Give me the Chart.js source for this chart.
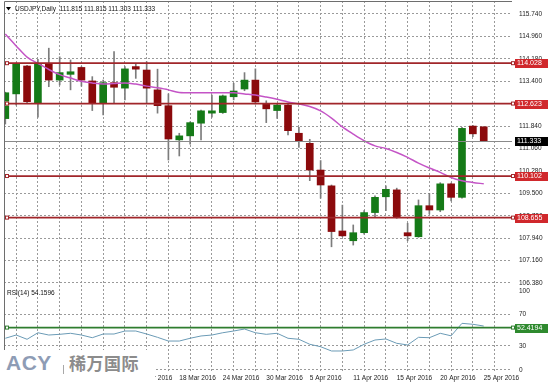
<!DOCTYPE html>
<html><head><meta charset="utf-8">
<script src="https://cdn.jsdelivr.net/npm/chart.js@4.4.1/dist/chart.umd.min.js"></script>
<style>
html,body{margin:0;padding:0;background:#fff;}
#wrap{position:relative;width:550px;height:387px;overflow:hidden;background:#fff;}
#c{position:absolute;left:0;top:0;}
#logo{position:absolute;left:0;top:350px;width:155px;height:37px;background:#fff;}
#acy{position:absolute;left:6px;top:2px;font:bold 21px "Liberation Sans",Arial,sans-serif;letter-spacing:0.5px;color:#8e9cb5;line-height:21px;}
#sep{position:absolute;left:63px;top:15px;width:1px;height:9px;background:#a8a8a8;}
#cn{position:absolute;left:69px;top:4px;font:bold 17px "Noto Sans CJK SC",sans-serif;color:#8c8c8c;line-height:17px;letter-spacing:0.5px;}
</style></head>
<body><div id="wrap"><canvas id="c" width="550" height="387"></canvas>
<div id="logo"><div id="acy">ACY</div><div id="sep"></div><div id="cn">稀万国际</div></div></div>
<script>
// ---- data ----
const dates = ['25 Feb 2016','26 Feb 2016','29 Feb 2016','1 Mar 2016','2 Mar 2016','3 Mar 2016','4 Mar 2016','7 Mar 2016','8 Mar 2016','9 Mar 2016','10 Mar 2016','11 Mar 2016','14 Mar 2016','15 Mar 2016','16 Mar 2016','17 Mar 2016','18 Mar 2016','21 Mar 2016','22 Mar 2016','23 Mar 2016','24 Mar 2016','25 Mar 2016','28 Mar 2016','29 Mar 2016','30 Mar 2016','31 Mar 2016','1 Apr 2016','4 Apr 2016','5 Apr 2016','6 Apr 2016','7 Apr 2016','8 Apr 2016','11 Apr 2016','12 Apr 2016','13 Apr 2016','14 Apr 2016','15 Apr 2016','17 Apr 2016','18 Apr 2016','19 Apr 2016','20 Apr 2016','21 Apr 2016','22 Apr 2016','24 Apr 2016','25 Apr 2016'];
const open  = [112.10,112.96,113.93,112.63,114.00,113.44,113.64,113.88,113.41,112.63,113.35,113.16,113.91,113.79,113.10,112.55,111.36,111.50,111.94,112.29,112.31,112.86,113.13,113.44,112.63,112.38,112.57,111.59,111.24,110.31,109.76,108.19,107.85,108.13,108.83,109.38,109.62,108.13,107.99,109.07,108.92,109.83,109.36,111.84,111.815];
const high  = [113.02,114.03,113.95,114.16,114.55,114.25,114.14,113.91,113.56,113.44,114.43,113.91,114.02,114.08,113.82,112.96,111.59,111.99,112.40,112.92,112.92,113.33,113.70,113.83,112.72,112.60,112.60,111.80,111.38,110.64,109.79,109.09,108.40,108.90,109.41,109.76,109.68,108.46,109.27,109.50,109.87,109.86,111.80,111.87,111.815];
const low   = [111.91,112.57,112.64,112.15,113.21,113.27,113.10,113.23,112.38,112.23,112.63,112.75,113.50,112.65,112.29,110.66,110.80,111.21,111.36,112.15,112.28,112.75,113.07,112.61,111.96,112.11,111.53,111.10,109.94,109.33,107.64,107.99,107.70,108.08,108.69,108.90,108.63,107.85,107.97,108.78,108.86,109.24,109.33,111.47,111.303];
const close = [113.00,113.99,112.69,114.02,113.44,113.70,113.73,113.44,112.63,113.35,113.19,113.83,113.82,113.16,112.55,111.39,111.50,111.96,112.37,112.37,112.89,113.06,113.44,112.68,112.44,112.57,111.68,111.32,110.31,109.79,108.17,108.02,108.13,108.83,109.36,109.64,108.67,108.02,109.07,108.92,109.83,109.36,111.76,111.57,111.333];
const ma    = [115.04,114.63,114.24,114.02,113.81,113.63,113.51,113.40,113.34,113.30,113.32,113.34,113.30,113.23,113.17,113.10,113.01,113.00,113.00,113.00,113.00,113.00,112.96,112.92,112.85,112.77,112.68,112.61,112.52,112.37,112.12,111.81,111.56,111.33,111.15,111.06,110.92,110.75,110.55,110.38,110.23,110.05,109.94,109.88,109.83];
const rsi   = [38.9,43.0,37.6,45.9,43.0,43.9,45.2,43.0,39.6,44.3,44.3,48.1,48.1,44.3,40.1,35.4,35.4,38.9,41.8,43.0,45.9,48.1,50.6,45.9,43.9,45.2,38.9,37.6,31.3,28.2,22.8,22.8,24.1,31.3,36.7,38.0,32.5,30.4,40.1,39.6,45.2,42.0,57.8,56.6,54.4];
const levels = [114.028, 112.623, 110.102, 108.655];
const rsiLevel = 52.4194;
const rsiValueText = '54.1596';
const priceTicks = [115.74,114.96,114.18,113.40,112.62,111.84,111.06,110.28,109.50,108.72,107.94,107.16,106.38];
const rsiTicks = [100, 70, 30, 0];
const xGridIdx = [2,4,6,8,10,12,14,16,18,20,22,24,26,28,30,32,34,36,38,40,42,44,46];
const title = 'USDJPY,Daily  111.815 111.815 111.303 111.333';

// ---- chart ----
const FONT = '"Liberation Sans", Arial, sans-serif';
const idx = open.map((_, i) => i);
const upC = '#157a17', dnC = '#8b0a0c';

const overlay = {
  id: 'overlay',
  beforeDatasetsDraw(chart) {
    const {ctx, chartArea: a, scales: {yr}} = chart;
    ctx.save();
    ctx.strokeStyle = '#9a9a9a'; ctx.lineWidth = 1; ctx.setLineDash([2, 2]);
    rsiTicks.filter(v => v < 100).forEach(v => {
      const y = Math.round(yr.getPixelForValue(v)) + 0.5;
      ctx.beginPath(); ctx.moveTo(a.left, y); ctx.lineTo(a.right, y); ctx.stroke();
    });
    ctx.restore();
  },
  afterDatasetsDraw(chart) {
    const {ctx, chartArea: a, scales: {y, yr}} = chart;
    ctx.save();
    const yc = Math.round(y.getPixelForValue(close[close.length - 1])) + 0.5;
    ctx.strokeStyle = '#8a8a8a'; ctx.lineWidth = 1;
    ctx.beginPath(); ctx.moveTo(a.left, yc); ctx.lineTo(a.right, yc); ctx.stroke();
    const hline = (py, col) => {
      ctx.strokeStyle = col; ctx.lineWidth = 1.7;
      ctx.beginPath(); ctx.moveTo(a.left, py); ctx.lineTo(a.right, py); ctx.stroke();
      ctx.lineWidth = 1;
      ctx.fillStyle = '#fff';
      [a.left + 1, a.right - 1].forEach(x0 => {
        ctx.fillRect(x0, py - 2, 4, 4);
        ctx.strokeRect(x0 + 0.5, py - 1.5, 3, 3);
      });
    };
    levels.forEach(v => hline(y.getPixelForValue(v), '#a1262a'));
    hline(yr.getPixelForValue(rsiLevel), '#2e7d2e');
    ctx.strokeStyle = '#6e6e6e'; ctx.lineWidth = 1;
    ctx.beginPath(); ctx.moveTo(a.left + 0.5, a.bottom); ctx.lineTo(a.left + 0.5, a.top + 0.5); ctx.lineTo(a.right, a.top + 0.5); ctx.stroke();
    ctx.restore();
  },
  afterDraw(chart) {
    const {ctx, chartArea: a, scales: {y, yr}} = chart;
    ctx.save();
    ctx.textBaseline = 'middle';
    ctx.font = '6.5px ' + FONT; ctx.fillStyle = '#222'; ctx.textAlign = 'left';
    rsiTicks.forEach(v => ctx.fillText(String(v), a.right + 7, yr.getPixelForValue(v) + 1));
    const box = (py, txt, bg) => {
      ctx.fillStyle = bg; ctx.fillRect(a.right + 3, Math.round(py) - 4, 33, 9);
      ctx.fillStyle = '#fff'; ctx.font = '7px ' + FONT; ctx.textAlign = 'left';
      ctx.fillText(txt, a.right + 5, Math.round(py) + 0.5);
    };
    levels.forEach(v => box(y.getPixelForValue(v), v.toFixed(3), '#d0282c'));
    box(y.getPixelForValue(close[close.length - 1]), close[close.length - 1].toFixed(3), '#000');
    box(yr.getPixelForValue(rsiLevel), rsiLevel.toFixed(4), '#2f8a2f');
    ctx.fillStyle = '#000';
    ctx.beginPath(); ctx.moveTo(6, 7); ctx.lineTo(11, 7); ctx.lineTo(8.5, 10.5); ctx.closePath(); ctx.fill();
    ctx.font = '6.5px ' + FONT; ctx.fillStyle = '#111';
    ctx.fillText(title, 15, 9);
    ctx.fillText('RSI(14) ' + rsiValueText, 7, 293);
    ctx.restore();
  }
};

new Chart(document.getElementById('c'), {
  type: 'bar',
  data: {
    datasets: [
      {type: 'line', data: idx.map(i => ({x: i, y: ma[i]})), borderColor: '#c454c6', borderWidth: 1.5,
       pointRadius: 0, cubicInterpolationMode: 'monotone', yAxisID: 'y', order: 0},
      {type: 'line', data: idx.map(i => ({x: i, y: rsi[i]})), borderColor: '#6b9bb6', borderWidth: 1,
       pointRadius: 0, yAxisID: 'yr', order: 0},
      {type: 'bar', data: idx.map(i => ({x: i, y: [open[i], close[i]]})),
       backgroundColor: idx.map(i => close[i] >= open[i] ? upC : dnC), borderWidth: 0,
       barThickness: 7, minBarLength: 1, grouped: false, yAxisID: 'y', order: 1},
      {type: 'bar', data: idx.map(i => ({x: i, y: [low[i], high[i]]})),
       backgroundColor: '#7c7c7c', borderWidth: 0, barThickness: 1, grouped: false, yAxisID: 'y', order: 2}
    ]
  },
  options: {
    responsive: false, animation: false, devicePixelRatio: 1,
    layout: {padding: {left: 4, top: 1, right: 0, bottom: 0}},
    plugins: {legend: {display: false}, tooltip: {enabled: false}},
    scales: {
      x: {type: 'linear', min: -0.12, max: 46.6, bounds: 'data', offset: false,
          afterBuildTicks: s => { s.ticks = xGridIdx.map(v => ({value: v})); },
          afterFit: s => { s.height = 16; s.paddingLeft = 0; s.paddingRight = 0; },
          ticks: {autoSkip: false, maxRotation: 0, minRotation: 0, align: 'start', padding: 3,
                  color: '#222', font: {size: 6.5, family: FONT},
                  callback: v => (v % 4 === 0 && v >= 12 && v < dates.length) ? dates[v] : ''},
          grid: {color: '#9a9a9a', lineWidth: 1, drawTicks: false},
          border: {display: false, dash: [2, 2]}},
      y: {type: 'linear', position: 'right', min: 103.318, max: 116.192, bounds: 'data',
          afterBuildTicks: s => { s.ticks = priceTicks.map(v => ({value: v})); },
          afterFit: s => { s.width = 38; s.paddingTop = 0; s.paddingBottom = 0; },
          ticks: {padding: 7, color: '#222', font: {size: 6.5, family: FONT}, callback: v => Number(v).toFixed(3)},
          grid: {color: '#9a9a9a', lineWidth: 1, drawTicks: false},
          border: {display: false, dash: [2, 2]}},
      yr: {type: 'linear', display: false, position: 'right', min: -2.53, max: 465.8}
    }
  },
  plugins: [overlay]
});
</script></body></html>
